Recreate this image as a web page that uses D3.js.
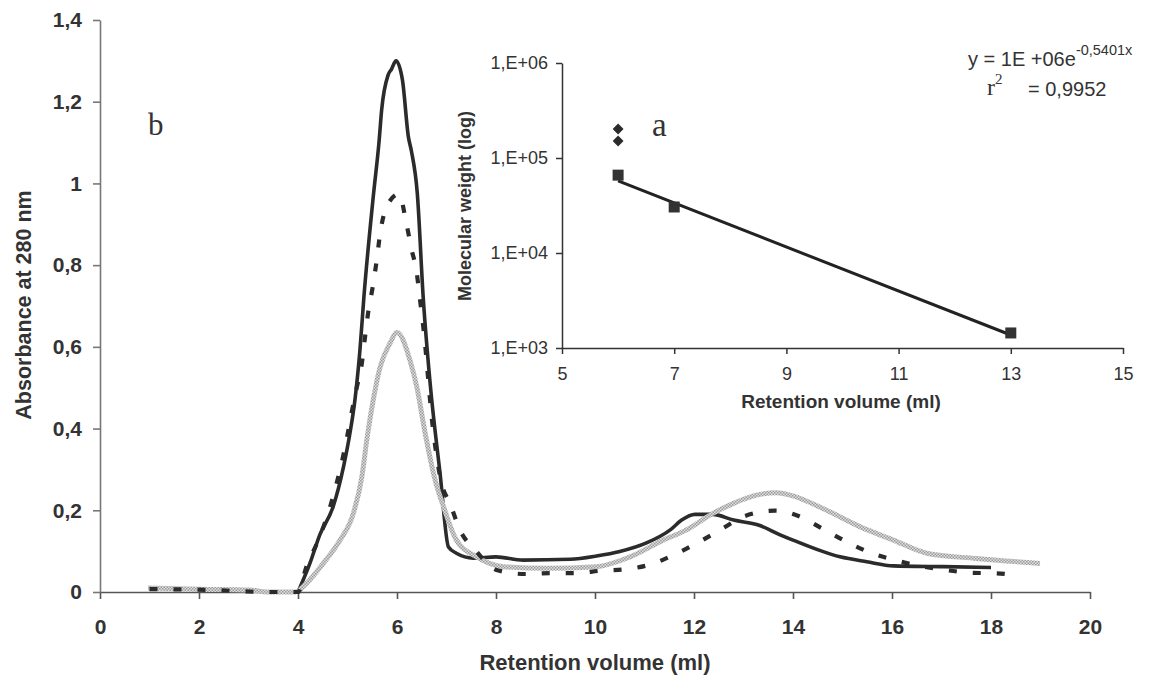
<!DOCTYPE html>
<html>
<head>
<meta charset="utf-8">
<script src="https://cdn.jsdelivr.net/npm/d3@7"></script>
<style>
  html, body { margin: 0; padding: 0; background: #ffffff; }
  svg { display: block; }
</style>
</head>
<body>
<svg id="chart" width="1152" height="688"></svg>
<script>
// ---------- Main chart data (retention volume ml, absorbance at 280 nm) ----------
const solidX = [4.0, 4.24, 4.44, 4.71, 4.92, 5.05, 5.15, 5.25, 5.33, 5.52, 5.64, 5.69, 5.82, 5.89, 5.98, 6.11, 6.23, 6.29, 6.41, 6.53, 6.67, 6.87, 7.04, 7.2, 7.54, 8.0, 8.55, 9.5, 10.03, 10.5, 11.04, 11.52, 11.75, 12.02, 12.38, 12.8, 13.3, 13.74, 14.0, 14.95, 15.49, 16.03, 17.04, 18.0];
const solidY = [0.0, 0.07, 0.14, 0.209, 0.307, 0.389, 0.47, 0.59, 0.72, 0.967, 1.106, 1.18, 1.265, 1.28, 1.30, 1.253, 1.114, 1.08, 0.976, 0.72, 0.51, 0.29, 0.11, 0.095, 0.083, 0.086, 0.078, 0.080, 0.088, 0.099, 0.12, 0.152, 0.176, 0.19, 0.19, 0.176, 0.164, 0.14, 0.127, 0.086, 0.074, 0.064, 0.062, 0.06];

const dashedX = [1.0, 2.2, 3.4, 4.0, 4.17, 4.41, 4.61, 4.78, 4.88, 4.98, 5.08, 5.19, 5.29, 5.35, 5.42, 5.51, 5.59, 5.66, 5.79, 6.04, 6.19, 6.29, 6.4, 6.46, 6.53, 6.73, 6.9, 7.07, 7.27, 7.58, 8.01, 8.59, 9.09, 9.63, 10.1, 10.64, 11.08, 11.58, 12.05, 12.53, 13.03, 13.64, 14.11, 14.58, 15.08, 15.59, 16.09, 17.07, 17.61, 18.08, 18.59];
const dashedY = [0.007, 0.005, 0.0, 0.0, 0.062, 0.127, 0.193, 0.266, 0.315, 0.372, 0.437, 0.502, 0.56, 0.62, 0.686, 0.747, 0.812, 0.878, 0.943, 0.974, 0.902, 0.841, 0.78, 0.72, 0.65, 0.396, 0.266, 0.217, 0.152, 0.103, 0.054, 0.044, 0.046, 0.046, 0.052, 0.056, 0.066, 0.09, 0.119, 0.152, 0.186, 0.199, 0.186, 0.156, 0.123, 0.095, 0.077, 0.054, 0.047, 0.046, 0.039];

const grayX = [0.97, 2.0, 3.03, 3.37, 3.94, 4.17, 4.51, 4.85, 5.12, 5.29, 5.39, 5.52, 5.66, 5.86, 6.0, 6.26, 6.4, 6.57, 6.77, 6.94, 7.2, 7.61, 8.15, 9.02, 10.03, 10.71, 11.38, 11.85, 12.39, 12.8, 13.26, 13.67, 13.94, 14.68, 15.35, 16.03, 16.7, 17.71, 18.99];
const grayY = [0.01, 0.007, 0.005, 0.0, 0.0, 0.021, 0.07, 0.127, 0.193, 0.282, 0.372, 0.47, 0.551, 0.609, 0.635, 0.568, 0.502, 0.388, 0.274, 0.209, 0.127, 0.086, 0.062, 0.058, 0.062, 0.086, 0.127, 0.152, 0.193, 0.217, 0.237, 0.243, 0.237, 0.2, 0.16, 0.127, 0.095, 0.082, 0.07];

const mainXTicks = [0, 2, 4, 6, 8, 10, 12, 14, 16, 18, 20];
const mainYTicks = [0, 0.2, 0.4, 0.6, 0.8, 1, 1.2, 1.4];
const mainYTickLabels = ["0", "0,2", "0,4", "0,6", "0,8", "1", "1,2", "1,4"];

// ---------- Inset (calibration) data ----------
const diamondX = [6, 6];
const diamondY = [202000, 151000];
const squareX = [6, 7, 13];
const squareY = [66000, 30500, 1440];
const trendX = [6, 13];
const trendY = [57300, 1370];
const insetXTicks = [5, 7, 9, 11, 13, 15];
const insetYTicks = [1e3, 1e4, 1e5, 1e6];
const insetYTickLabels = ["1,E+03", "1,E+04", "1,E+05", "1,E+06"];

// ---------- Drawing ----------
const svg = d3.select("#chart");
svg.append("rect").attr("width", 1152).attr("height", 688).attr("fill", "#ffffff");

const defs = svg.append("defs");
const pat = defs.append("pattern").attr("id", "grayTex")
  .attr("patternUnits", "userSpaceOnUse").attr("width", 3).attr("height", 3);
pat.append("rect").attr("width", 3).attr("height", 3).attr("fill", "#dedede");
pat.append("rect").attr("x", 0).attr("y", 0).attr("width", 1.5).attr("height", 1.5).attr("fill", "#9c9c9c");
pat.append("rect").attr("x", 1.5).attr("y", 1.5).attr("width", 1.5).attr("height", 1.5).attr("fill", "#9c9c9c");

const SANS = "'Liberation Sans', Arial, sans-serif";
const SERIF = "'Liberation Serif', 'Times New Roman', serif";
const DARK = "#2b2b2b";

// Main scales
const x = d3.scaleLinear().domain([0, 20]).range([100, 1090]);
const y = d3.scaleLinear().domain([0, 1.4]).range([592, 20]);

// Main axes
const xAxis = d3.axisBottom(x).tickValues(mainXTicks).tickSize(7).tickSizeOuter(0).tickPadding(20)
  .tickFormat(d => String(d));
const gx = svg.append("g").attr("transform", `translate(0,${y(0)})`).call(xAxis);
gx.select(".domain").attr("stroke", "#555").attr("stroke-width", 1.6);
gx.selectAll(".tick line").attr("stroke", "#555").attr("stroke-width", 1.6);
gx.selectAll(".tick text").attr("font-family", SANS).attr("font-size", 21)
  .attr("font-weight", "bold").attr("fill", "#333");

const yAxis = d3.axisLeft(y).tickValues(mainYTicks).tickSize(7).tickSizeOuter(0).tickPadding(11)
  .tickFormat((d, i) => mainYTickLabels[i]);
const gy = svg.append("g").attr("transform", `translate(${x(0)},0)`).call(yAxis);
gy.select(".domain").attr("stroke", "#777").attr("stroke-width", 1.6);
gy.selectAll(".tick line").attr("stroke", "#777").attr("stroke-width", 1.6);
gy.selectAll(".tick text").attr("font-family", SANS).attr("font-size", 21)
  .attr("font-weight", "bold").attr("fill", "#333");

// Axis titles
svg.append("text").attr("x", 595).attr("y", 670).attr("text-anchor", "middle")
  .attr("font-family", SANS).attr("font-size", 22).attr("font-weight", "bold").attr("fill", "#333")
  .text("Retention volume (ml)");
svg.append("text").attr("transform", "translate(31,305) rotate(-90)").attr("text-anchor", "middle")
  .attr("font-family", SANS).attr("font-size", 21.5).attr("font-weight", "bold").attr("fill", "#333")
  .text("Absorbance at 280 nm");

// Curves
const line = d3.line().x(d => x(d[0])).y(d => y(d[1])).curve(d3.curveMonotoneX);
const solid = solidX.map((v, i) => [v, solidY[i]]);
const dashed = dashedX.map((v, i) => [v, dashedY[i]]);
const gray = grayX.map((v, i) => [v, grayY[i]]);

svg.append("path").datum(solid).attr("d", line).attr("fill", "none")
  .attr("stroke", DARK).attr("stroke-width", 3.6).attr("stroke-linejoin", "round");
svg.append("path").datum(gray).attr("d", line).attr("fill", "none")
  .attr("stroke", "url(#grayTex)").attr("stroke-width", 5).attr("stroke-linejoin", "round");
svg.append("path").datum(dashed).attr("d", line).attr("fill", "none")
  .attr("stroke", DARK).attr("stroke-width", 4.2).attr("stroke-dasharray", "8,16");

// Panel letter b
svg.append("text").attr("x", 148).attr("y", 135).attr("font-family", SERIF).attr("font-size", 31)
  .attr("fill", "#333").text("b");

// ---------- Inset ----------
const xi = d3.scaleLinear().domain([5, 15]).range([562, 1123]);
const yi = d3.scaleLog().domain([1e3, 1e6]).range([348, 63]);

const xiAxis = d3.axisBottom(xi).tickValues(insetXTicks).tickSize(6).tickSizeOuter(0).tickPadding(13)
  .tickFormat(d => String(d));
const gxi = svg.append("g").attr("transform", `translate(0,${yi(1e3)})`).call(xiAxis);
gxi.select(".domain").attr("stroke", "#333").attr("stroke-width", 1.5);
gxi.selectAll(".tick line").attr("stroke", "#333").attr("stroke-width", 1.5);
gxi.selectAll(".tick text").attr("font-family", SANS).attr("font-size", 18).attr("fill", "#333");

const yiAxis = d3.axisLeft(yi).tickValues(insetYTicks).tickSize(6).tickSizeOuter(0).tickPadding(8)
  .tickFormat((d, i) => insetYTickLabels[i]);
const gyi = svg.append("g").attr("transform", `translate(${xi(5)},0)`).call(yiAxis);
gyi.select(".domain").attr("stroke", "#333").attr("stroke-width", 1.5);
gyi.selectAll(".tick line").attr("stroke", "#333").attr("stroke-width", 1.5);
gyi.selectAll(".tick text").attr("font-family", SANS).attr("font-size", 18).attr("fill", "#333");

svg.append("text").attr("x", 841).attr("y", 408).attr("text-anchor", "middle")
  .attr("font-family", SANS).attr("font-size", 19).attr("font-weight", "bold").attr("fill", "#333")
  .text("Retention volume (ml)");
svg.append("text").attr("transform", "translate(471,206) rotate(-90)").attr("text-anchor", "middle")
  .attr("font-family", SANS).attr("font-size", 18).attr("font-weight", "bold").attr("fill", "#333")
  .text("Molecular weight (log)");

// Trend line
const trend = trendX.map((v, i) => [v, trendY[i]]);
svg.append("path").datum(trend)
  .attr("d", d3.line().x(d => xi(d[0])).y(d => yi(d[1])))
  .attr("fill", "none").attr("stroke", "#222").attr("stroke-width", 3);

// Markers
const sq = squareX.map((v, i) => [v, squareY[i]]);
svg.selectAll(".sq").data(sq).enter().append("rect").attr("class", "sq")
  .attr("x", d => xi(d[0]) - 5.5).attr("y", d => yi(d[1]) - 5.5)
  .attr("width", 11).attr("height", 11).attr("fill", "#333");
const dm = diamondX.map((v, i) => [v, diamondY[i]]);
svg.selectAll(".dm").data(dm).enter().append("path").attr("class", "dm")
  .attr("transform", d => `translate(${xi(d[0])},${yi(d[1])})`)
  .attr("d", d3.symbol().type(d3.symbolDiamond2).size(75)).attr("fill", "#2b2b2b");

// Panel letter a
svg.append("text").attr("x", 652).attr("y", 136).attr("font-family", SERIF).attr("font-size", 33)
  .attr("fill", "#333").text("a");

// Equation
const eq = svg.append("text").attr("x", 968).attr("y", 66).attr("font-family", SANS)
  .attr("font-size", 20).attr("fill", "#333");
eq.append("tspan").text("y = 1E +06e");
eq.append("tspan").attr("dy", -11).attr("font-size", 14.5).text("-0,5401x");

const r2 = svg.append("text").attr("x", 987).attr("y", 95).attr("font-family", SERIF)
  .attr("font-size", 24).attr("fill", "#333");
r2.append("tspan").text("r");
r2.append("tspan").attr("dy", -11).attr("font-size", 15).text("2");
svg.append("text").attr("x", 1028).attr("y", 96).attr("font-family", SANS)
  .attr("font-size", 20).attr("fill", "#333").text("= 0,9952");
</script>
</body>
</html>
